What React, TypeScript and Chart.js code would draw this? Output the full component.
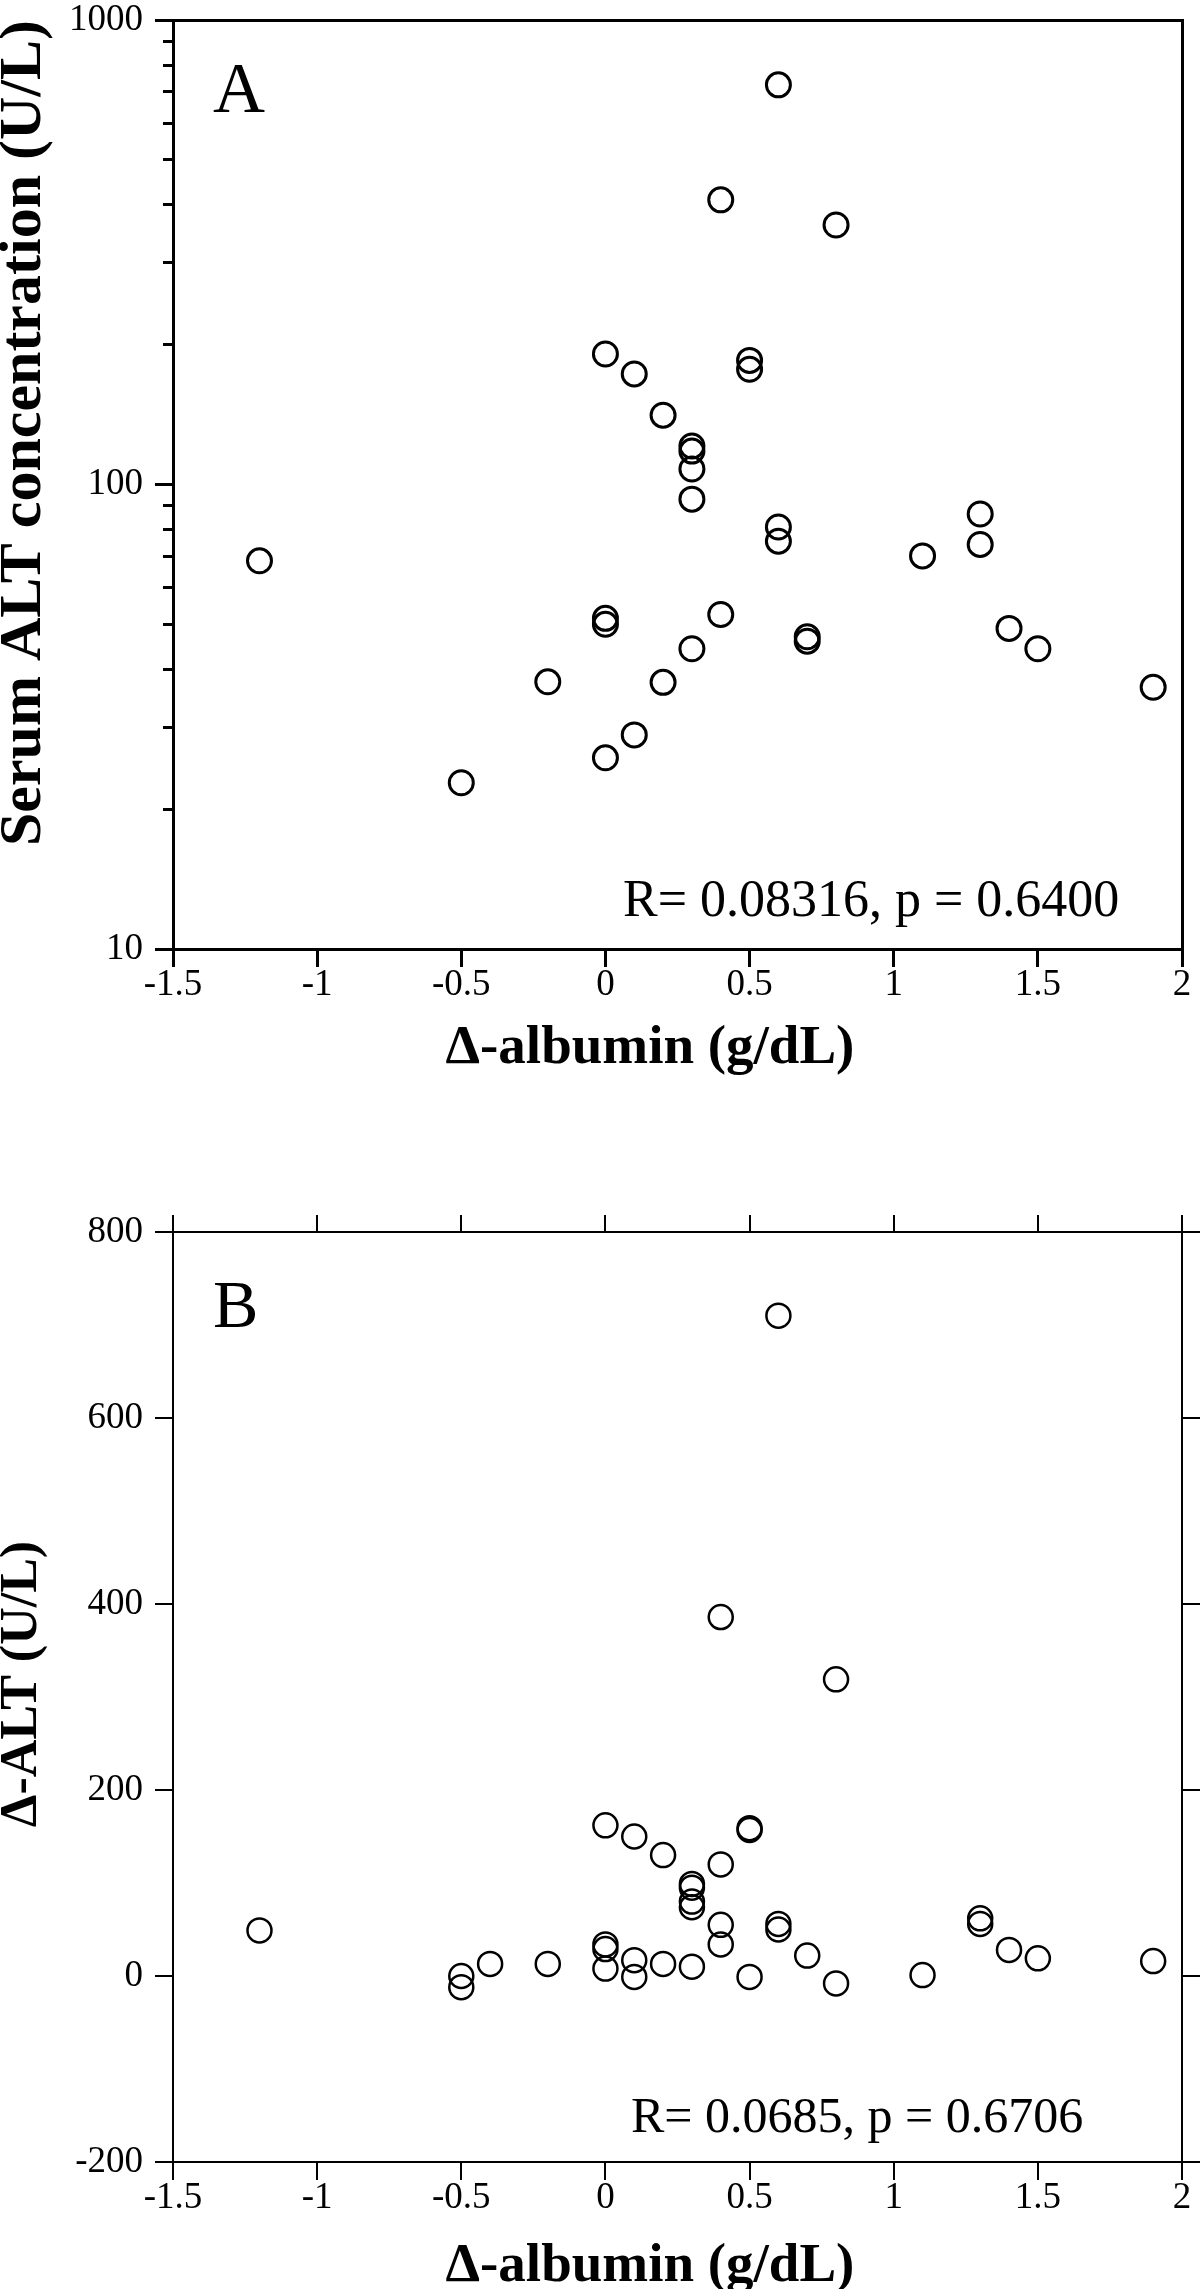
import React, { useEffect, useRef } from "react";
import { Chart, registerables } from "chart.js";

Chart.register(...registerables);

// ---------- data ----------
const X_TICKS = [-1.5, -1, -0.5, 0, 0.5, 1, 1.5, 2];
const Y_TICKS_A = [10, 100, 1000];
const Y_MINOR_A = [20, 30, 40, 50, 60, 70, 80, 90, 200, 300, 400, 500, 600, 700, 800, 900];
const Y_TICKS_B = [-200, 0, 200, 400, 600, 800];

// Panel A: Δ-albumin vs serum ALT concentration
const ALBUMIN_A = [0.6, 0.4, 0.8, 0.0, 0.1, 0.5, 0.5, 0.2, 0.3, 0.3, 0.3, 0.3, 0.6, 0.6, 1.3, 1.3, 1.1, -1.2, 0.0, 0.0, 0.4, 0.7, 0.7, 1.4, 1.5, 0.3, 1.9, -0.2, 0.2, 0.1, 0.0, -0.5];
const ALT_A = [725, 410, 362, 191, 173, 185, 177, 141, 121, 118, 108, 93, 81, 75.5, 86.4, 74.3, 70.2, 68.5, 51.5, 50, 52.5, 47, 46, 49, 44.3, 44.3, 36.6, 37.6, 37.5, 28.9, 25.8, 22.8];

// Panel B: Δ-albumin vs Δ-ALT
const ALBUMIN_B = [0.6, 0.4, 0.8, 0.0, 0.1, 0.5, 0.5, 0.2, 0.4, 0.3, 0.3, 0.3, 0.3, 0.6, 0.6, 1.3, 1.3, 1.1, -1.2, 0.0, 0.0, 0.4, 0.4, 0.7, 1.4, 1.5, 1.9, -0.2, 0.2, 0.1, 0.1, 0.0, -0.5, -0.5, -0.4, 0.3, 0.5, 0.8];
const DELTA_ALT_B = [710, 386, 319, 162, 150, 159, 157, 130, 120, 99, 95, 80, 74, 56, 50, 62, 56, 1, 49, 34, 29, 55, 34, 22, 28, 19, 16, 13, 13, 17, -1, 8, 0, -12, 13, 10, -1, -8];

const X_TITLE = "\u0394-albumin (g/dL)    ";
const Y_TITLE_A = "Serum ALT concentration (U/L)";
const Y_TITLE_B = "  \u0394-ALT (U/L)";
const STAT_A = "R= 0.08316, p = 0.6400";
const STAT_B = "R= 0.0685, p = 0.6706";

// ---------- styling ----------
const FONT = "'Liberation Serif', 'Times New Roman', Times, serif";
const W = 1200;
const H_A = 1130;
const H_B = 2289 - 1130;

const setTicks = (vals: number[]) => (s: any) => {
  s.ticks = vals.map((v) => ({ value: v }));
};
const fixW = (w: number) => (s: any) => {
  s.width = w;
  s.paddingTop = 0;
  s.paddingBottom = 0;
};
const fixH = (h: number) => (s: any) => {
  s.height = h;
  s.paddingLeft = 0;
  s.paddingRight = 0;
};

const tickFont = { family: FONT, size: 37, lineHeight: 1.0 };
const xTitleFont = { family: FONT, size: 55, weight: "bold" as const, lineHeight: 0.8 };

const textPlugin = (
  label: string,
  labelSize: number,
  labelDy: number,
  stat: string,
  statSize: number,
  statDx: number,
  statDy: number
) => ({
  id: "panelText",
  afterDraw(chart: any) {
    const { ctx, chartArea } = chart;
    ctx.save();
    ctx.fillStyle = "#000";
    ctx.textAlign = "left";
    ctx.textBaseline = "alphabetic";
    ctx.font = `${labelSize}px ${FONT}`;
    ctx.fillText(label, chartArea.left + 40, chartArea.top + labelDy);
    ctx.font = `${statSize}px ${FONT}`;
    ctx.fillText(stat, chartArea.left + statDx, chartArea.bottom - statDy);
    ctx.restore();
  },
});

function lineOpts(w: number, len: number, draw = true) {
  return {
    drawOnChartArea: false,
    drawTicks: draw,
    tickLength: len,
    tickWidth: w,
    lineWidth: w,
    color: "#000",
    tickColor: "#000",
  };
}

function makeA(canvas: HTMLCanvasElement) {
  const lw = 3;
  return new Chart(canvas, {
    type: "scatter",
    data: {
      datasets: [
        {
          data: ALBUMIN_A.map((x, i) => ({ x, y: ALT_A[i] })),
          pointRadius: 12,
          pointHoverRadius: 12,
          pointBorderWidth: 3,
          borderColor: "#000",
          backgroundColor: "rgba(0,0,0,0)",
          pointStyle: "circle",
          xAxisID: "x",
          yAxisID: "y",
        },
      ],
    },
    options: {
      animation: false,
      responsive: false,
      devicePixelRatio: 1,
      events: [],
      layout: { padding: 0 },
      plugins: { legend: { display: false }, tooltip: { enabled: false } },
      scales: {
        x: {
          type: "linear",
          position: "bottom",
          min: -1.5,
          max: 2,
          afterBuildTicks: setTicks(X_TICKS),
          afterFit: fixH(H_A - 949),
          ticks: { callback: (v: any) => String(v), font: tickFont, color: "#000", padding: 0, maxRotation: 0, autoSkip: false },
          grid: lineOpts(lw, 18),
          border: { display: true, width: lw, color: "#000" },
          title: { display: true, text: X_TITLE, font: xTitleFont, color: "#000", padding: { top: 0, bottom: 59 } },
        },
        xTop: {
          type: "linear",
          position: "top",
          min: -1.5,
          max: 2,
          afterFit: fixH(20),
          ticks: { display: false },
          grid: lineOpts(lw, 0, false),
          border: { display: true, width: lw, color: "#000" },
        },
        y: {
          type: "logarithmic",
          position: "left",
          weight: 1,
          min: 10,
          max: 1000,
          afterBuildTicks: setTicks(Y_TICKS_A),
          afterFit: fixW(173),
          ticks: { callback: (v: any) => String(v), font: tickFont, color: "#000", padding: 12, autoSkip: false },
          grid: lineOpts(lw, 18),
          border: { display: true, width: lw, color: "#000" },
          title: {
            display: true,
            text: Y_TITLE_A,
            align: "end",
            font: { family: FONT, size: 60, weight: "bold", lineHeight: 0.8 },
            color: "#000",
            padding: { top: 0, bottom: 0 },
          },
        },
        yMinor: {
          type: "logarithmic",
          position: "left",
          weight: 0,
          min: 10,
          max: 1000,
          afterBuildTicks: setTicks(Y_MINOR_A),
          afterFit: fixW(0),
          ticks: { display: false },
          grid: lineOpts(lw, 10),
          border: { display: false },
        },
        yRight: {
          type: "logarithmic",
          position: "right",
          min: 10,
          max: 1000,
          afterFit: fixW(18),
          ticks: { display: false },
          grid: lineOpts(lw, 0, false),
          border: { display: true, width: lw, color: "#000" },
        },
      },
    } as any,
    plugins: [textPlugin("A", 72, 92, STAT_A, 52, 450, 33)],
  });
}

function makeB(canvas: HTMLCanvasElement) {
  const lw = 2;
  const top = 1232 - 1130;
  const bottom = 2162 - 1130;
  return new Chart(canvas, {
    type: "scatter",
    data: {
      datasets: [
        {
          data: ALBUMIN_B.map((x, i) => ({ x, y: DELTA_ALT_B[i] })),
          pointRadius: 12,
          pointHoverRadius: 12,
          pointBorderWidth: 2.5,
          borderColor: "#000",
          backgroundColor: "rgba(0,0,0,0)",
          pointStyle: "circle",
          xAxisID: "x",
          yAxisID: "y",
        },
      ],
    },
    options: {
      animation: false,
      responsive: false,
      devicePixelRatio: 1,
      events: [],
      layout: { padding: 0 },
      plugins: { legend: { display: false }, tooltip: { enabled: false } },
      scales: {
        x: {
          type: "linear",
          position: "bottom",
          min: -1.5,
          max: 2,
          afterBuildTicks: setTicks(X_TICKS),
          afterFit: fixH(H_B - bottom),
          ticks: { callback: (v: any) => String(v), font: tickFont, color: "#000", padding: 0, maxRotation: 0, autoSkip: false },
          grid: lineOpts(lw, 18),
          border: { display: true, width: lw, color: "#000" },
          title: { display: true, text: X_TITLE, font: xTitleFont, color: "#000", padding: { top: 0, bottom: 0 } },
        },
        xTop: {
          type: "linear",
          position: "top",
          min: -1.5,
          max: 2,
          afterBuildTicks: setTicks(X_TICKS),
          afterFit: fixH(top),
          ticks: { display: false },
          grid: lineOpts(lw, 17),
          border: { display: true, width: lw, color: "#000" },
        },
        y: {
          type: "linear",
          position: "left",
          min: -200,
          max: 800,
          afterBuildTicks: setTicks(Y_TICKS_B),
          afterFit: fixW(173),
          ticks: { callback: (v: any) => String(v), font: tickFont, color: "#000", padding: 12, autoSkip: false },
          grid: lineOpts(lw, 18),
          border: { display: true, width: lw, color: "#000" },
          title: {
            display: true,
            text: Y_TITLE_B,
            font: { family: FONT, size: 52, weight: "bold", lineHeight: 0.88 },
            color: "#000",
            padding: { top: 0, bottom: 0 },
          },
        },
        yRight: {
          type: "linear",
          position: "right",
          min: -200,
          max: 800,
          afterBuildTicks: setTicks(Y_TICKS_B),
          afterFit: fixW(18),
          ticks: { display: false },
          grid: lineOpts(lw, 18),
          border: { display: true, width: lw, color: "#000" },
        },
      },
    } as any,
    plugins: [textPlugin("B", 68, 95, STAT_B, 50, 458, 30)],
  });
}

export default function App() {
  const refA = useRef<HTMLCanvasElement | null>(null);
  const refB = useRef<HTMLCanvasElement | null>(null);

  useEffect(() => {
    const a = refA.current ? makeA(refA.current) : null;
    const b = refB.current ? makeB(refB.current) : null;
    return () => {
      if (a) a.destroy();
      if (b) b.destroy();
    };
  }, []);

  return (
    <div
      style={{
        position: "absolute",
        left: 0,
        top: 0,
        width: W,
        height: 2289,
        overflow: "hidden",
        background: "#fff",
      }}
    >
      <canvas
        ref={refA}
        width={W}
        height={H_A}
        style={{ position: "absolute", left: 0, top: 0, width: W, height: H_A, display: "block" }}
      />
      <canvas
        ref={refB}
        width={W}
        height={H_B}
        style={{ position: "absolute", left: 0, top: H_A, width: W, height: H_B, display: "block" }}
      />
    </div>
  );
}
